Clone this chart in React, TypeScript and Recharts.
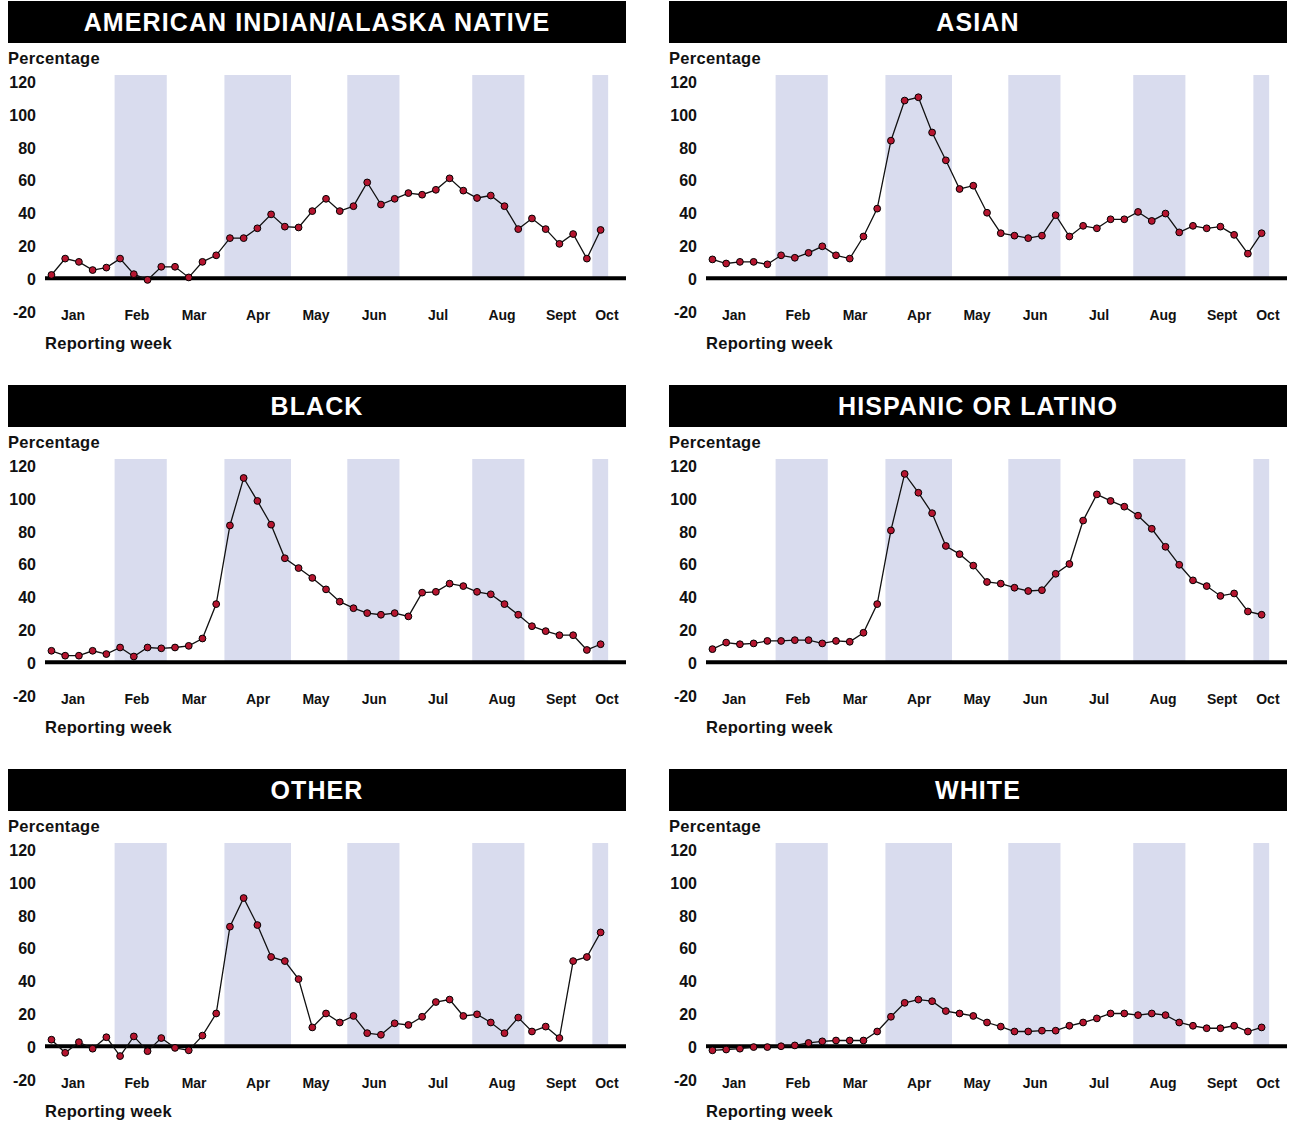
import React from 'react';
import { LineChart, Line, XAxis, YAxis, ReferenceArea, ReferenceLine } from 'recharts';

const panelTitles = ['AMERICAN INDIAN/ALASKA NATIVE', 'ASIAN', 'BLACK', 'HISPANIC OR LATINO', 'OTHER', 'WHITE'];

const aianValues = [2, 12, 10, 5, 6.5, 12, 2.5, -1, 7, 7, 0.5, 10, 14, 24.5, 24.5, 30.5, 39, 31.5, 31, 41, 48.5, 41, 44, 58.5, 45, 48.5, 52, 51, 54, 61, 53.5, 49, 50.5, 44, 30, 36.5, 30, 21, 27, 12, 29.5];
const asianValues = [11.5, 9, 10, 10, 8.5, 14, 12.5, 15.5, 19.5, 14, 12, 25.5, 42.5, 84, 108.5, 110.5, 89, 72, 54.5, 56.5, 40, 27.5, 26, 24.5, 26, 38.5, 25.5, 32, 30.5, 36, 36, 40.5, 35, 39.5, 28, 32, 30.5, 31.5, 26.5, 15, 27.5];
const blackValues = [7, 4, 4, 7, 5, 9, 3.5, 9, 8.5, 9, 10, 14.5, 35.5, 83.5, 112.5, 98.5, 84, 63.5, 57.5, 51.5, 44.5, 37, 33, 30, 29, 30, 28, 42.5, 43, 48, 46.5, 43, 41.5, 35.5, 29, 22, 19, 16.5, 16.5, 7.5, 11];
const hispanicValues = [8, 12, 11, 11.5, 13, 13, 13.5, 13.5, 11.5, 13, 12.5, 18, 35.5, 80.5, 115, 103.5, 91, 71, 66, 59, 49, 48, 45.5, 43.5, 44, 54, 60, 86.5, 102.5, 98.5, 95, 89.5, 81.5, 70.5, 59.5, 50, 46.5, 40.5, 42, 31, 29];
const otherValues = [4, -4, 2.5, -1.5, 5.5, -6, 6, -3, 5, -1, -2.5, 6.5, 20, 73, 90.5, 74, 54.5, 52, 41, 11.5, 20, 14.5, 18.5, 8, 7, 14, 13, 18, 27, 28.5, 18.5, 19.5, 14.5, 8, 17.5, 9, 12, 5, 52, 54.5, 69.5];
const whiteValues = [-2.5, -2, -1.5, -0.5, -0.5, 0, 0.5, 2, 3, 3.5, 3.5, 3.5, 9, 18, 26.5, 28.5, 27.5, 21.5, 20, 18.5, 14.5, 12, 9, 9, 9.5, 9.5, 12.5, 14.5, 17, 20, 20, 19, 20, 19, 14.5, 12.5, 11, 11, 12.5, 9, 11.5];

const panelSeries = [aianValues, asianValues, blackValues, hispanicValues, otherValues, whiteValues];

// month labels and their position expressed in reporting-week index
const monthLabels = ['Jan', 'Feb', 'Mar', 'Apr', 'May', 'Jun', 'Jul', 'Aug', 'Sept', 'Oct'];
const monthTickWeeks = [1.57, 6.23, 10.39, 15.05, 19.27, 23.5, 28.16, 32.82, 37.12, 40.46];
// shaded (even) months, start/end in reporting-week index
const shadedMonthStart = [4.6, 12.6, 21.55, 30.65, 39.4];
const shadedMonthEnd = [8.4, 17.45, 25.35, 34.45, 40.55];
const yTicks = [-20, 0, 20, 40, 60, 80, 100, 120];
const yMin = -20;
const yMax = 124.1;

const FONT = '"Liberation Sans", Arial, Helvetica, sans-serif';
const NARROW = '"Liberation Sans Narrow", "Arial Narrow", "Liberation Sans", Arial, sans-serif';

const MonthTick = (props: any) => {
  const { x, y, payload } = props;
  const idx = monthTickWeeks.indexOf(payload.value);
  return (
    <text x={x} y={y + 4} textAnchor="middle" dominantBaseline="central" fontFamily={NARROW} fontSize={14} fontWeight={700} fill="#111">
      {idx >= 0 ? monthLabels[idx] : ''}
    </text>
  );
};

const ValueTick = (props: any) => {
  const { x, y, payload } = props;
  return (
    <text x={x} y={y + 1} textAnchor="end" dominantBaseline="central" fontFamily={FONT} fontSize={16} fontWeight={700} fill="#111">
      {payload.value}
    </text>
  );
};

function Panel({ title, values, left, top }: { title: string; values: number[]; left: number; top: number }) {
  const data = values.map((v, i) => ({ week: i, value: v }));
  return (
    <div style={{ position: 'absolute', left, top, width: 618, height: 370 }}>
      <div
        style={{
          position: 'absolute', left: 0, top: 0, width: 618, height: 42, background: '#000', color: '#fff',
          fontFamily: FONT, fontWeight: 700, fontSize: 25, letterSpacing: 1.1,
          display: 'flex', alignItems: 'center', justifyContent: 'center', whiteSpace: 'nowrap',
        }}
      >
        {title}
      </div>
      <div style={{ position: 'absolute', left: 0, top: 47, fontFamily: FONT, fontWeight: 700, fontSize: 16.5, lineHeight: '20px', color: '#111', letterSpacing: 0.3 }}>
        Percentage
      </div>
      <div style={{ position: 'absolute', left: 0, top: 42 }}>
        <LineChart width={618} height={292} data={data} margin={{ top: 32, right: 0, bottom: 0, left: 0 }}>
          <XAxis
            dataKey="week"
            type="number"
            domain={[-0.47, 41.85]}
            ticks={monthTickWeeks}
            interval={0}
            tickLine={false}
            axisLine={false}
            tickSize={0}
            tickMargin={0}
            height={24}
            tick={(p: any) => <MonthTick {...p} />}
          />
          <YAxis
            type="number"
            domain={[yMin, yMax]}
            ticks={yTicks}
            interval={0}
            allowDataOverflow
            width={37}
            tickLine={false}
            axisLine={false}
            tickSize={0}
            tickMargin={9}
            tick={(p: any) => <ValueTick {...p} />}
          />
          {shadedMonthStart.map((s, i) => (
            <ReferenceArea key={i} x1={s} x2={shadedMonthEnd[i]} y1={0} y2={yMax} fill="#d9dcee" fillOpacity={1} stroke="none" />
          ))}
          <ReferenceLine y={0} stroke="#000" strokeWidth={4} />
          <Line
            type="linear"
            dataKey="value"
            stroke="#111"
            strokeWidth={1.3}
            dot={{ r: 3.4, fill: '#b5152f', stroke: '#000', strokeWidth: 1 }}
            activeDot={false}
            isAnimationActive={false}
          />
        </LineChart>
      </div>
      <div style={{ position: 'absolute', left: 37, top: 332, fontFamily: FONT, fontWeight: 700, fontSize: 16.5, lineHeight: '20px', color: '#111', letterSpacing: 0.3 }}>
        Reporting week
      </div>
    </div>
  );
}

const colLefts = [8, 669];
const rowTops = [1, 385, 769];

export default function App() {
  return (
    <div style={{ position: 'absolute', left: 0, top: 0, width: 1293, height: 1121, background: '#fff', overflow: 'hidden' }}>
      {panelTitles.map((t, i) => (
        <Panel key={t} title={t} values={panelSeries[i]} left={colLefts[i % 2]} top={rowTops[Math.floor(i / 2)]} />
      ))}
    </div>
  );
}
